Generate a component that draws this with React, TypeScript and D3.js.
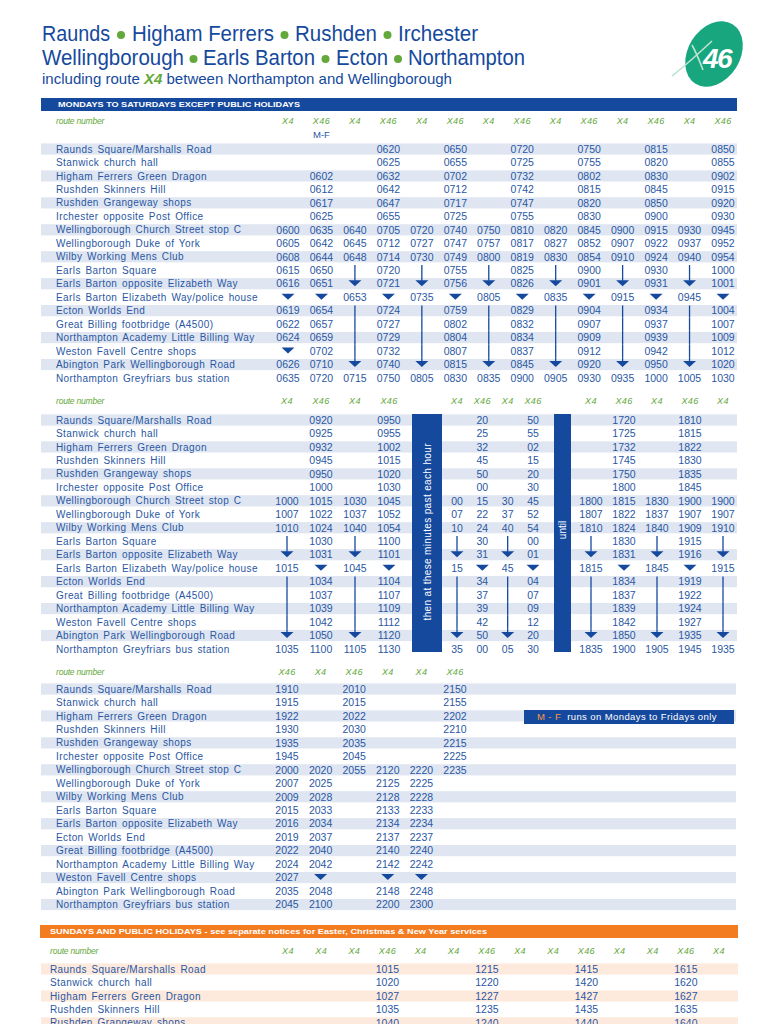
import React from "react";
import * as d3 from "d3";

// colours
const BLUE = "#2a57a3";
const DARK = "#15499d";
const STRIPE = "#dfe6f1";
const GREEN = "#63a83a";
const ORANGE = "#f47c20";
const PEACH = "#fdeadd";
const FONT = "'Liberation Sans', Arial, Helvetica, sans-serif";

// stops
const stopsFull = [
  "Raunds Square/Marshalls Road",
  "Stanwick church hall",
  "Higham Ferrers Green Dragon",
  "Rushden Skinners Hill",
  "Rushden Grangeway shops",
  "Irchester opposite Post Office",
  "Wellingborough Church Street stop C",
  "Wellingborough Duke of York",
  "Wilby Working Mens Club",
  "Earls Barton Square",
  "Earls Barton opposite Elizabeth Way",
  "Earls Barton Elizabeth Way/police house",
  "Ecton Worlds End",
  "Great Billing footbridge (A4500)",
  "Northampton Academy Little Billing Way",
  "Weston Favell Centre shops",
  "Abington Park Wellingborough Road",
  "Northampton Greyfriars bus station",
];
const stopsEvening = [
  "Raunds Square/Marshalls Road",
  "Stanwick church hall",
  "Higham Ferrers Green Dragon",
  "Rushden Skinners Hill",
  "Rushden Grangeway shops",
  "Irchester opposite Post Office",
  "Wellingborough Church Street stop C",
  "Wellingborough Duke of York",
  "Wilby Working Mens Club",
  "Earls Barton Square",
  "Earls Barton opposite Elizabeth Way",
  "Ecton Worlds End",
  "Great Billing footbridge (A4500)",
  "Northampton Academy Little Billing Way",
  "Weston Favell Centre shops",
  "Abington Park Wellingborough Road",
  "Northampton Greyfriars bus station",
];
const stopsSunday = [
  "Raunds Square/Marshalls Road",
  "Stanwick church hall",
  "Higham Ferrers Green Dragon",
  "Rushden Skinners Hill",
  "Rushden Grangeway shops",
];

// "|" = bus runs on without stopping, "v" = arrow head
// morning block
const amRoutes = ["X4", "X46", "X4", "X46", "X4", "X46", "X4", "X46", "X4", "X46", "X4", "X46", "X4", "X46"];
const amNotes = ["", "M-F", "", "", "", "", "", "", "", "", "", "", "", ""];
const amTimes = [
  ["", "", "", "", "", "", "0600", "0605", "0608", "0615", "0616", "v", "0619", "0622", "0624", "v", "0626", "0635"],
  ["", "", "0602", "0612", "0617", "0625", "0635", "0642", "0644", "0650", "0651", "v", "0654", "0657", "0659", "0702", "0710", "0720"],
  ["", "", "", "", "", "", "0640", "0645", "0648", "|", "v", "0653", "|", "|", "|", "|", "v", "0715"],
  ["0620", "0625", "0632", "0642", "0647", "0655", "0705", "0712", "0714", "0720", "0721", "v", "0724", "0727", "0729", "0732", "0740", "0750"],
  ["", "", "", "", "", "", "0720", "0727", "0730", "|", "v", "0735", "|", "|", "|", "|", "v", "0805"],
  ["0650", "0655", "0702", "0712", "0717", "0725", "0740", "0747", "0749", "0755", "0756", "v", "0759", "0802", "0804", "0807", "0815", "0830"],
  ["", "", "", "", "", "", "0750", "0757", "0800", "|", "v", "0805", "|", "|", "|", "|", "v", "0835"],
  ["0720", "0725", "0732", "0742", "0747", "0755", "0810", "0817", "0819", "0825", "0826", "v", "0829", "0832", "0834", "0837", "0845", "0900"],
  ["", "", "", "", "", "", "0820", "0827", "0830", "|", "v", "0835", "|", "|", "|", "|", "v", "0905"],
  ["0750", "0755", "0802", "0815", "0820", "0830", "0845", "0852", "0854", "0900", "0901", "v", "0904", "0907", "0909", "0912", "0920", "0930"],
  ["", "", "", "", "", "", "0900", "0907", "0910", "|", "v", "0915", "|", "|", "|", "|", "v", "0935"],
  ["0815", "0820", "0830", "0845", "0850", "0900", "0915", "0922", "0924", "0930", "0931", "v", "0934", "0937", "0939", "0942", "0950", "1000"],
  ["", "", "", "", "", "", "0930", "0937", "0940", "|", "v", "0945", "|", "|", "|", "|", "v", "1005"],
  ["0850", "0855", "0902", "0915", "0920", "0930", "0945", "0952", "0954", "1000", "1001", "v", "1004", "1007", "1009", "1012", "1020", "1030"],
];

// daytime block
const dayRoutes = ["X4", "X46", "X4", "X46", "X4", "X46", "X4", "X46", "X4", "X46", "X4", "X46", "X4"];
const dayTimes = [
  ["", "", "", "", "", "", "1000", "1007", "1010", "|", "v", "1015", "|", "|", "|", "|", "v", "1035"],
  ["0920", "0925", "0932", "0945", "0950", "1000", "1015", "1022", "1024", "1030", "1031", "v", "1034", "1037", "1039", "1042", "1050", "1100"],
  ["", "", "", "", "", "", "1030", "1037", "1040", "|", "v", "1045", "|", "|", "|", "|", "v", "1105"],
  ["0950", "0955", "1002", "1015", "1020", "1030", "1045", "1052", "1054", "1100", "1101", "v", "1104", "1107", "1109", "1112", "1120", "1130"],
  ["", "", "", "", "", "", "00", "07", "10", "|", "v", "15", "|", "|", "|", "|", "v", "35"],
  ["20", "25", "32", "45", "50", "00", "15", "22", "24", "30", "31", "v", "34", "37", "39", "42", "50", "00"],
  ["", "", "", "", "", "", "30", "37", "40", "|", "v", "45", "|", "|", "|", "|", "v", "05"],
  ["50", "55", "02", "15", "20", "30", "45", "52", "54", "00", "01", "v", "04", "07", "09", "12", "20", "30"],
  ["", "", "", "", "", "", "1800", "1807", "1810", "|", "v", "1815", "|", "|", "|", "|", "v", "1835"],
  ["1720", "1725", "1732", "1745", "1750", "1800", "1815", "1822", "1824", "1830", "1831", "v", "1834", "1837", "1839", "1842", "1850", "1900"],
  ["", "", "", "", "", "", "1830", "1837", "1840", "|", "v", "1845", "|", "|", "|", "|", "v", "1905"],
  ["1810", "1815", "1822", "1830", "1835", "1845", "1900", "1907", "1909", "1915", "1916", "v", "1919", "1922", "1924", "1927", "1935", "1945"],
  ["", "", "", "", "", "", "1900", "1907", "1910", "|", "v", "1915", "|", "|", "|", "|", "v", "1935"],
];

// evening block
const eveRoutes = ["X46", "X4", "X46", "X4", "X4", "X46"];
const eveTimes = [
  ["1910", "1915", "1922", "1930", "1935", "1945", "2000", "2007", "2009", "2015", "2016", "2019", "2022", "2024", "2027", "2035", "2045"],
  ["", "", "", "", "", "", "2020", "2025", "2028", "2033", "2034", "2037", "2040", "2042", "v", "2048", "2100"],
  ["2010", "2015", "2022", "2030", "2035", "2045", "2055", "", "", "", "", "", "", "", "", "", ""],
  ["", "", "", "", "", "", "2120", "2125", "2128", "2133", "2134", "2137", "2140", "2142", "v", "2148", "2200"],
  ["", "", "", "", "", "", "2220", "2225", "2228", "2233", "2234", "2237", "2240", "2242", "v", "2248", "2300"],
  ["2150", "2155", "2202", "2210", "2215", "2225", "2235", "", "", "", "", "", "", "", "", "", ""],
];

// sunday block
const sunRoutes = ["X4", "X4", "X4", "X46", "X4", "X4", "X46", "X4", "X4", "X46", "X4", "X4", "X46", "X4"];
const sunTimes = [
  [], [], [],
  ["1015", "1020", "1027", "1035", "1040"],
  [], [],
  ["1215", "1220", "1227", "1235", "1240"],
  [], [],
  ["1415", "1420", "1427", "1435", "1440"],
  [], [],
  ["1615", "1620", "1627", "1635", "1640"],
  [],
];

const titleLine1 = ["Raunds", "Higham Ferrers", "Rushden", "Irchester"];
const titleLine2 = ["Wellingborough", "Earls Barton", "Ecton", "Northampton"];

function Column({ x, y, cells, pitch }) {
  return (
    <g>
      {cells.map((c, i) => {
        const cy = y(i);
        const prev = cells[i - 1];
        if (c === "|") {
          const top = prev === "|" ? cy - pitch / 2 : cy - pitch / 2 + 1.5;
          return <line key={i} x1={x} x2={x} y1={top} y2={cy + pitch / 2} stroke={DARK} strokeWidth={1.3} />;
        }
        if (c === "v") {
          return (
            <g key={i}>
              {prev === "|" && <line x1={x} x2={x} y1={cy - pitch / 2} y2={cy - 3} stroke={DARK} strokeWidth={1.3} />}
              <path d={`M${x - 6.5},${cy - 3.5}L${x + 6.5},${cy - 3.5}L${x},${cy + 2.5}Z`} fill={DARK} />
            </g>
          );
        }
        if (!c) return null;
        return (
          <text key={i} x={x} y={cy} dy="0.36em" textAnchor="middle" fontSize={10.5} fill={BLUE}>
            {c}
          </text>
        );
      })}
    </g>
  );
}

function Table({ stops, routes, notes, times, xs, yTop, headerY, stripe, nameX, right }) {
  const pitch = 13.47;
  const y = d3.scaleLinear().domain([0, 1]).range([yTop, yTop + pitch]);
  return (
    <g fontFamily={FONT}>
      {stops.map((s, i) =>
        i % 2 === 0 ? <rect key={"s" + i} x={41} y={y(i) - 5.6} width={right - 41} height={11.2} fill={stripe} /> : null
      )}
      <text x={nameX} y={headerY} dy="0.35em" fontSize={8.5} fontStyle="italic" fill={GREEN} letterSpacing={-0.2}>
        route number
      </text>
      {routes.map((r, j) => (
        <text key={"r" + j} x={xs[j]} y={headerY} dy="0.35em" textAnchor="middle" fontSize={9} fontStyle="italic" fill={GREEN} letterSpacing={0.4}>
          {r}
        </text>
      ))}
      {notes &&
        notes.map((n, j) =>
          n ? (
            <text key={"n" + j} x={xs[j]} y={headerY + 14} dy="0.35em" textAnchor="middle" fontSize={9.5} fill={BLUE}>
              {n}
            </text>
          ) : null
        )}
      {stops.map((s, i) => (
        <text key={"t" + i} x={nameX} y={y(i)} dy="0.36em" fontSize={10} fill={BLUE} letterSpacing={0.4} wordSpacing={1.5}>
          {s}
        </text>
      ))}
      {times.map((col, j) => (
        <Column key={"c" + j} x={xs[j]} y={y} cells={col} pitch={pitch} />
      ))}
    </g>
  );
}

// one headline: each word fitted to its span, green dots between
function Title({ words, spans, y }) {
  return (
    <g fontFamily={FONT}>
      {words.map((w, i) => (
        <text key={i} x={spans[i][0]} y={y} fontSize={22.5} fill={DARK} textLength={spans[i][1] - spans[i][0]} lengthAdjust="spacingAndGlyphs">
          {w}
        </text>
      ))}
      {spans.slice(1).map((s, i) => (
        <circle key={"b" + i} cx={(spans[i][1] + s[0]) / 2} cy={y - 6} r={4} fill={GREEN} />
      ))}
    </g>
  );
}

export default function App() {
  const amX = d3.scalePoint<number>().domain(d3.range(14)).range([288, 723]);
  const amXs = amRoutes.map((_, j) => amX(j));

  const dayA = d3.scalePoint<number>().domain(d3.range(4)).range([287, 389]);
  const dayB = d3.scalePoint<number>().domain(d3.range(4)).range([457, 533]);
  const dayC = d3.scalePoint<number>().domain(d3.range(5)).range([591, 723]);
  const dayXs = dayRoutes.map((_, j) => (j < 4 ? dayA(j) : j < 8 ? dayB(j - 4) : dayC(j - 8)));

  const eveX = d3.scalePoint<number>().domain(d3.range(6)).range([287, 455]);
  const eveXs = eveRoutes.map((_, j) => eveX(j));

  const sunX = d3.scalePoint<number>().domain(d3.range(14)).range([288, 719]);
  const sunXs = sunRoutes.map((_, j) => sunX(j));

  return (
    <svg width={768} height={1024} style={{ position: "absolute", top: 0, left: 0, background: "#fff" }}>
      <rect width={768} height={1024} fill="#fff" />
      <Title words={titleLine1} spans={[[42, 110], [132, 274], [295, 377], [398, 478]]} y={41} />
      <Title words={titleLine2} spans={[[42, 184], [203, 315], [336, 388], [408, 525]]} y={65} />
      <text x={42} y={84} fontFamily={FONT} fontSize={15} fill={DARK} textLength={410} lengthAdjust="spacingAndGlyphs">
        including route <tspan fill={GREEN} fontWeight="bold" fontStyle="italic">X4</tspan> between Northampton and Wellingborough
      </text>

      {/* logo */}
      <g transform="translate(714,54) rotate(32)">
        <ellipse rx={26} ry={35} fill="#17a67e" />
      </g>
      <path d="M672,76 C685,66 698,54 712,41 M692,45 C697,54 700,62 703,70" stroke="#b9e4d2" strokeWidth={1.6} fill="none" />
      <text x={717} y={68} textAnchor="middle" fontFamily={FONT} fontSize={28} fontWeight="bold" fontStyle="italic" fill="#fff" letterSpacing={-1.5}>
        46
      </text>

      {/* weekday header */}
      <rect x={41} y={98} width={696} height={13} fill={DARK} />
      <text x={58} y={104.5} dy="0.35em" fontFamily={FONT} fontSize={7.5} fontWeight="bold" fill="#fff" textLength={242} lengthAdjust="spacingAndGlyphs">
        MONDAYS TO SATURDAYS EXCEPT PUBLIC HOLIDAYS
      </text>

      <Table stops={stopsFull} routes={amRoutes} notes={amNotes} times={amTimes} xs={amXs} yTop={149} headerY={121} stripe={STRIPE} nameX={56} right={737} />

      <Table stops={stopsFull} routes={dayRoutes} notes={null} times={dayTimes} xs={dayXs} yTop={420} headerY={401} stripe={STRIPE} nameX={56} right={737} />
      <rect x={412} y={414} width={30} height={238} fill={DARK} />
      <text transform="translate(427,532) rotate(-90)" dy="0.35em" textAnchor="middle" fontFamily={FONT} fontSize={10} fill="#fff" textLength={177} lengthAdjust="spacing">
        then at these minutes past each hour
      </text>
      <rect x={554} y={414} width={17} height={238} fill={DARK} />
      <text transform="translate(562.5,530) rotate(-90)" dy="0.35em" textAnchor="middle" fontFamily={FONT} fontSize={10} fill="#fff">
        until
      </text>

      <Table stops={stopsEvening} routes={eveRoutes} notes={null} times={eveTimes} xs={eveXs} yTop={689} headerY={672} stripe={STRIPE} nameX={56} right={736} />
      <rect x={524} y={710} width={210} height={14} fill={DARK} />
      <text x={537} y={717} dy="0.35em" fontFamily={FONT} fontSize={9.5} fill="#fff" letterSpacing={0.4}>
        <tspan fill="#f5963a">M - F</tspan>
        <tspan dx={6}>runs on Mondays to Fridays only</tspan>
      </text>

      {/* sunday */}
      <rect x={40} y={925} width={698} height={13} fill={ORANGE} />
      <text x={50} y={931.5} dy="0.35em" fontFamily={FONT} fontSize={7.5} fontWeight="bold" fill="#fff" textLength={437} lengthAdjust="spacingAndGlyphs">
        SUNDAYS AND PUBLIC HOLIDAYS - see separate notices for Easter, Christmas &amp; New Year services
      </text>
      <Table stops={stopsSunday} routes={sunRoutes} notes={null} times={sunTimes} xs={sunXs} yTop={969} headerY={951} stripe={PEACH} nameX={50} right={738} />
    </svg>
  );
}
